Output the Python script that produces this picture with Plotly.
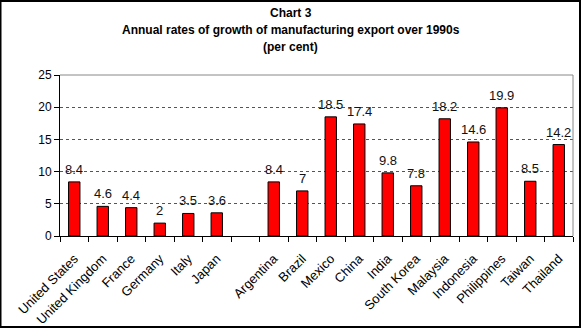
import plotly.graph_objects as go

countries = ["United States", "United Kingdom", "France", "Germany", "Italy", "Japan", " ",
             "Argentina", "Brazil", "Mexico", "China", "India", "South Korea", "Malaysia",
             "Indonesia", "Philippines", "Taiwan", "Thailand"]
growth = [8.4, 4.6, 4.4, 2, 3.5, 3.6, None,
          8.4, 7, 18.5, 17.4, 9.8, 7.8, 18.2, 14.6, 19.9, 8.5, 14.2]
title_lines = ["Chart 3", "Annual rates of growth of manufacturing export over 1990s", "(per cent)"]

FONT = "Arial, Liberation Sans, sans-serif"

fig = go.Figure()
fig.add_trace(go.Bar(
    x=countries, y=growth,
    marker=dict(color="#FF0000", line=dict(color="#000", width=1)),
))

W, H = 581, 328
ml, mr, mt, mb = 60, 8, 75, 92
pw, ph = W - ml - mr, H - mt - mb

annotations = []
for i, line in enumerate(title_lines):
    ypx = 13 + i * 17
    annotations.append(dict(
        text=f"<b>{line}</b>", xref="paper", yref="paper", showarrow=False,
        x=(W / 2 - ml) / pw, xanchor="center",
        y=1 + (mt - ypx) / ph, yanchor="middle",
        font=dict(family=FONT, size=12, color="#000"),
    ))

for c, v in zip(countries, growth):
    if v is None:
        continue
    annotations.append(dict(
        text=f"{v:g}", x=c, y=v, xref="x", yref="y", showarrow=False,
        yanchor="bottom", yshift=3,
        font=dict(family=FONT, size=13, color="#111"),
    ))

fig.update_layout(
    width=W, height=H,
    margin=dict(l=ml, r=mr, t=mt, b=mb, autoexpand=False),
    paper_bgcolor="white", plot_bgcolor="white",
    bargap=0.6, showlegend=False,
    font=dict(family=FONT, size=12, color="#000"),
    annotations=annotations,
    xaxis=dict(
        type="category", tickangle=-45, ticks="outside", tickson="boundaries",
        ticklen=5, tickcolor="#000", showline=True, linecolor="#000",
        showgrid=False, automargin=False, range=[-0.5, len(countries) - 0.5],
        ticklabelstandoff=9,
        tickfont=dict(family=FONT, size=13, color="#000"),
    ),
    yaxis=dict(
        range=[0, 25], dtick=5, ticks="outside", ticklen=5, tickcolor="#000",
        showline=True, linecolor="#000", showgrid=True, gridcolor="#555",
        griddash="dot", gridwidth=1, zeroline=False, automargin=False,
        tickfont=dict(family=FONT, size=12, color="#000"),
    ),
    shapes=[
        dict(type="line", xref="paper", yref="paper", x0=1, x1=1, y0=0, y1=1,
             line=dict(color="#888", width=1)),
        dict(type="line", xref="paper", yref="paper", x0=0, x1=1, y0=1, y1=1,
             line=dict(color="#888", width=1)),
        dict(type="rect", xref="paper", yref="paper",
             x0=-ml / pw + 0.5 / pw, x1=1 + (mr - 1) / pw,
             y0=-mb / ph + 1 / ph, y1=1 + (mt - 1) / ph,
             line=dict(color="#000", width=2)),
    ],
)

fig.write_html("out.html")
